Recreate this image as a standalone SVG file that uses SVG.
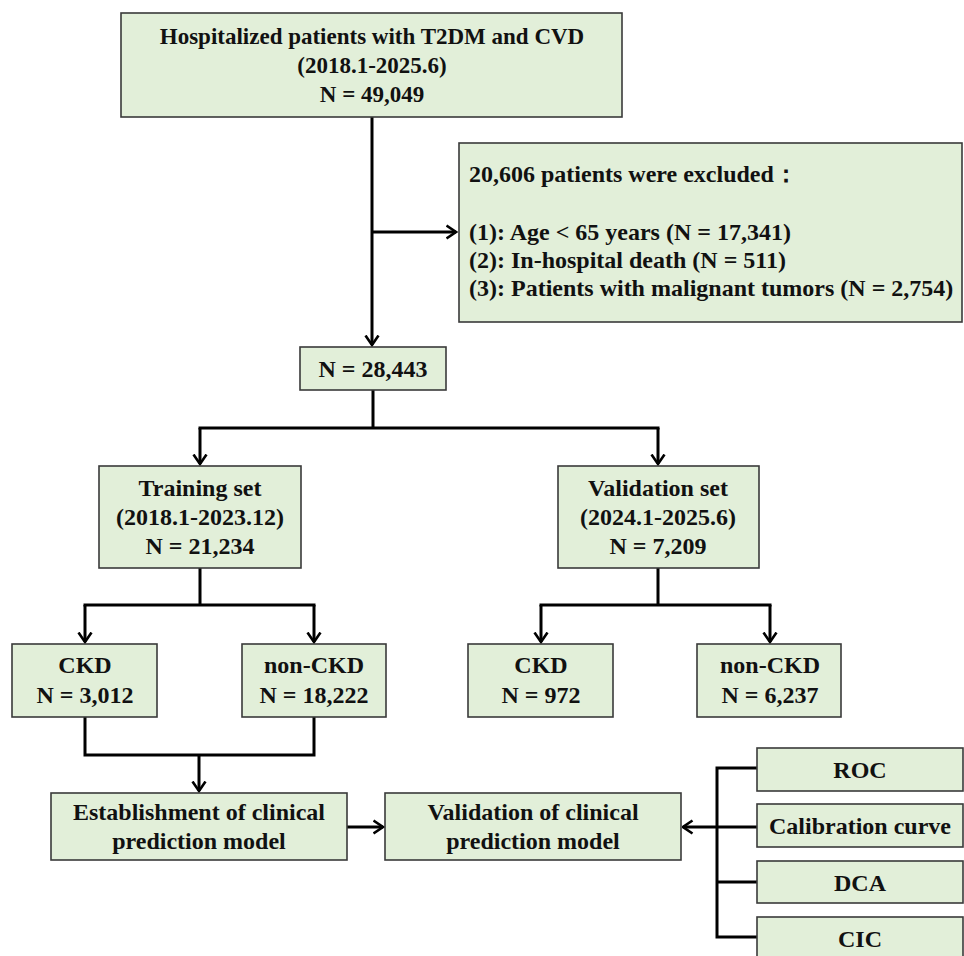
<svg xmlns="http://www.w3.org/2000/svg" width="964" height="956" viewBox="0 0 964 956">
<style>
.box{fill:#E2EFD9;stroke:#3a3a3a;stroke-width:1.6}
.t{font-family:"Liberation Serif","Times New Roman",serif;font-weight:bold;font-size:24px;fill:#111;text-anchor:middle}
.tl{text-anchor:start}
.c{fill:none;stroke:#000;stroke-width:3}
</style>
<defs>
<marker id="arr" viewBox="0 0 12 16" refX="10.5" refY="8" markerWidth="12" markerHeight="16" markerUnits="userSpaceOnUse" orient="auto">
<path d="M1,1.5 L10.5,8 L1,14.5" fill="none" stroke="#000" stroke-width="2.6"/>
</marker>
</defs>
<rect width="964" height="956" fill="#fff"/>
<g id="connectors">
<path class="c" d="M372,117 V345" marker-end="url(#arr)"/>
<path class="c" d="M372,232 H456" marker-end="url(#arr)"/>
<path class="c" d="M373,390 V428 M198.5,428 H659.5"/>
<path class="c" d="M200,428 V464" marker-end="url(#arr)"/>
<path class="c" d="M658,428 V464" marker-end="url(#arr)"/>
<path class="c" d="M200,568 V605 M83.5,605 H315.5"/>
<path class="c" d="M85,605 V642" marker-end="url(#arr)"/>
<path class="c" d="M314,605 V642" marker-end="url(#arr)"/>
<path class="c" d="M658,568 V605 M539.5,605 H771.5"/>
<path class="c" d="M541,605 V642" marker-end="url(#arr)"/>
<path class="c" d="M770,605 V642" marker-end="url(#arr)"/>
<path class="c" d="M85,717 V755 H314 V717"/>
<path class="c" d="M199,755 V791" marker-end="url(#arr)"/>
<path class="c" d="M347,827 H383" marker-end="url(#arr)"/>
<path class="c" d="M717,766.5 V938.5 M717,768 H757 M717,882 H757 M717,937 H757 M717,827 H757"/>
<path class="c" d="M717,827 H683" marker-end="url(#arr)"/>
</g>
<g id="n-start">
<rect class="box" x="121" y="13" width="501" height="104"/>
<text class="t" x="372" y="44" style="font-size:23px">Hospitalized patients with T2DM and CVD</text>
<text class="t" x="372" y="73" style="font-size:23px">(2018.1-2025.6)</text>
<text class="t" x="372" y="102" style="font-size:23px">N = 49,049</text>
</g>
<g id="n-excluded">
<rect class="box" x="459" y="143" width="503" height="179"/>
<text class="t tl" x="469" y="182">20,606 patients were excluded：</text>
<text class="t tl" x="469" y="240">(1): Age &lt; 65 years (N = 17,341)</text>
<text class="t tl" x="469" y="268">(2): In-hospital death (N = 511)</text>
<text class="t tl" x="469" y="296">(3): Patients with malignant tumors (N = 2,754)</text>
</g>
<g id="n-eligible">
<rect class="box" x="300" y="347" width="146" height="43"/>
<text class="t" x="373" y="377">N = 28,443</text>
</g>
<g id="n-training">
<rect class="box" x="99" y="466" width="202" height="102"/>
<text class="t" x="200" y="496">Training set</text>
<text class="t" x="200" y="525">(2018.1-2023.12)</text>
<text class="t" x="200" y="554">N = 21,234</text>
</g>
<g id="n-validation">
<rect class="box" x="558" y="466" width="201" height="102"/>
<text class="t" x="658" y="496">Validation set</text>
<text class="t" x="658" y="525">(2024.1-2025.6)</text>
<text class="t" x="658" y="554">N = 7,209</text>
</g>
<g id="n-train-ckd">
<rect class="box" x="12" y="644" width="145" height="73"/>
<text class="t" x="85" y="673">CKD</text>
<text class="t" x="85" y="703">N = 3,012</text>
</g>
<g id="n-train-nonckd">
<rect class="box" x="242" y="644" width="144" height="73"/>
<text class="t" x="314" y="673">non-CKD</text>
<text class="t" x="314" y="703">N = 18,222</text>
</g>
<g id="n-val-ckd">
<rect class="box" x="468" y="644" width="145" height="73"/>
<text class="t" x="541" y="673">CKD</text>
<text class="t" x="541" y="703">N = 972</text>
</g>
<g id="n-val-nonckd">
<rect class="box" x="697" y="644" width="144" height="73"/>
<text class="t" x="770" y="673">non-CKD</text>
<text class="t" x="770" y="703">N = 6,237</text>
</g>
<g id="n-establish">
<rect class="box" x="51" y="793" width="296" height="67"/>
<text class="t" x="199" y="820">Establishment of clinical</text>
<text class="t" x="199" y="849">prediction model</text>
</g>
<g id="n-validate">
<rect class="box" x="385" y="793" width="296" height="67"/>
<text class="t" x="533" y="820">Validation of clinical</text>
<text class="t" x="533" y="849">prediction model</text>
</g>
<g id="n-roc">
<rect class="box" x="757" y="748" width="206" height="43"/>
<text class="t" x="860" y="778">ROC</text>
</g>
<g id="n-calibration">
<rect class="box" x="757" y="804" width="206" height="43"/>
<text class="t" x="860" y="834">Calibration curve</text>
</g>
<g id="n-dca">
<rect class="box" x="757" y="861" width="206" height="42"/>
<text class="t" x="860" y="891">DCA</text>
</g>
<g id="n-cic">
<rect class="box" x="757" y="917" width="206" height="50"/>
<text class="t" x="860" y="947">CIC</text>
</g>
</svg>
